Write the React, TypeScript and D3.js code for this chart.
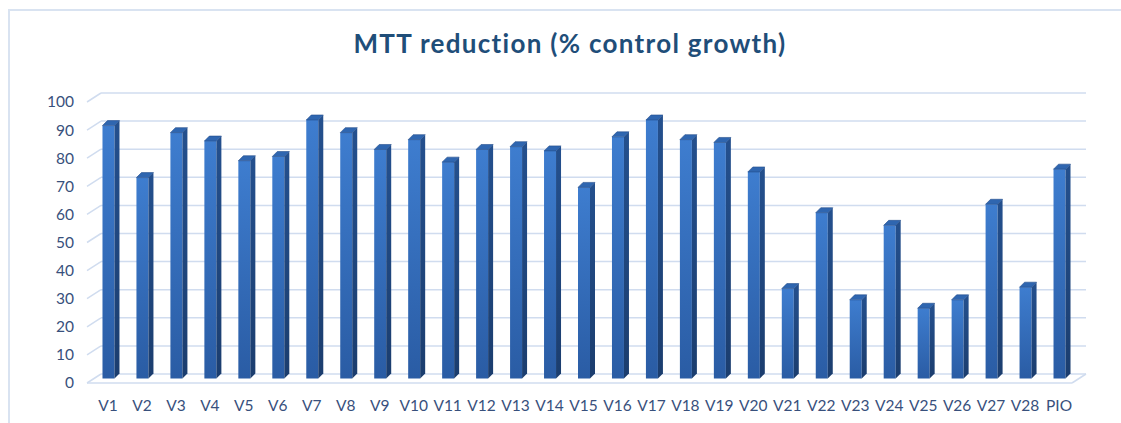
import React from 'react';
import * as d3 from 'd3';

const categories = [
  'V1', 'V2', 'V3', 'V4', 'V5', 'V6', 'V7', 'V8', 'V9', 'V10',
  'V11', 'V12', 'V13', 'V14', 'V15', 'V16', 'V17', 'V18', 'V19', 'V20',
  'V21', 'V22', 'V23', 'V24', 'V25', 'V26', 'V27', 'V28', 'PIO'
];
const mttValues = [
  90, 71.5, 87.5, 84.5, 77.5, 79, 92, 87.5, 81.5, 85,
  77, 81.5, 82.5, 81, 68, 86, 92, 85, 84, 73.5,
  32, 59, 28, 54.5, 25, 28, 62, 32.5, 74.5
];
const yTicks = [0, 10, 20, 30, 40, 50, 60, 70, 80, 90, 100];
const title = 'MTT reduction (% control growth)';

const W = 1121;
const H = 423;

// front edge of the floor, and the offset to the back wall
const floorLeft = 87;
const floorRight = 1072;
const frontZero = 383;
const frontTop = 102;
const wallDx = 14;
const wallDy = -9;
// bars stand halfway into the floor
const barDx = 7;
const barDy = -4.5;
const faceW = 12;
const sideD = 5;

const font = "Lato, 'Open Sans', sans-serif";
const textColor = '#38507c';
const gridColor = '#d0dcef';

const App: React.FC = () => {
  const x = d3.scaleBand<string>()
    .domain(categories)
    .range([floorLeft, floorRight]);

  const yFront = d3.scaleLinear().domain([0, 100]).range([frontZero, frontTop]);
  const yBack = (v: number) => yFront(v) + wallDy;
  const yBar = (v: number) => yFront(v) + barDy;

  return (
    <div style={{ position: 'absolute', left: 0, top: 0 }}>
      <svg width={W} height={H} viewBox={`0 0 ${W} ${H}`} style={{ display: 'block', background: '#fff' }}>
        <defs>
          <linearGradient id="front" x1="0" y1="0" x2="0" y2="1">
            <stop offset="0%" stopColor="#3e7dcf" />
            <stop offset="100%" stopColor="#2a5ca4" />
          </linearGradient>
          <linearGradient id="side" x1="0" y1="0" x2="0" y2="1">
            <stop offset="0%" stopColor="#24508e" />
            <stop offset="100%" stopColor="#1b3d6e" />
          </linearGradient>
        </defs>

        {/* chart frame */}
        <path d={`M 9 ${H + 5} L 9 10 L ${W + 5} 10`} fill="none" stroke="#d9e3f1" strokeWidth={2} />

        <text x={570} y={53} textAnchor="middle" fontFamily={font} letterSpacing={1.3}
          fontWeight={700} fontSize={26} fill="#1f4e79">{title}</text>

        {/* back wall grid + side wall diagonals */}
        {yTicks.map(t => (
          <g key={t}>
            <line x1={floorLeft + wallDx} x2={floorRight + wallDx} y1={yBack(t)} y2={yBack(t)}
              stroke={gridColor} strokeWidth={1.5} />
            <line x1={floorLeft} x2={floorLeft + wallDx} y1={yFront(t)} y2={yBack(t)}
              stroke={gridColor} strokeWidth={1.5} />
          </g>
        ))}
        {/* floor front edge */}
        <line x1={floorLeft} x2={floorRight} y1={frontZero} y2={frontZero} stroke={gridColor} strokeWidth={1.5} />
        <line x1={floorRight} x2={floorRight + wallDx} y1={frontZero} y2={yBack(0)} stroke={gridColor} strokeWidth={1.5} />

        {/* y labels */}
        {yTicks.map(t => (
          <text key={t} x={74} y={yFront(t)} dy="0.35em" textAnchor="end"
            fontFamily={font} fontSize={15.5} fill={textColor}>{t}</text>
        ))}

        {/* bars */}
        {categories.map((c, i) => {
          const cx = (x(c) || 0) + x.bandwidth() / 2 + barDx;
          const left = cx - 8.5;
          const right = left + faceW;
          const top = yBar(mttValues[i]);
          const bottom = yBar(0);
          return (
            <g key={c}>
              <rect x={left} y={top} width={faceW} height={bottom - top} fill="url(#front)" />
              <path d={`M ${right} ${top} L ${right + sideD} ${top - sideD} L ${right + sideD} ${bottom - sideD} L ${right} ${bottom} Z`}
                fill="url(#side)" />
              <path d={`M ${left} ${top} L ${left + sideD} ${top - sideD} L ${right + sideD} ${top - sideD} L ${right} ${top} Z`}
                fill="#2f66b0" stroke="#234e8c" strokeWidth={0.6} />
            </g>
          );
        })}

        {/* category labels */}
        {categories.map(c => (
          <text key={c} x={(x(c) || 0) + x.bandwidth() / 2 + 4} y={406} dy="0.35em" textAnchor="middle"
            fontFamily={font} fontSize={15.5} fill={textColor}>{c}</text>
        ))}
      </svg>
    </div>
  );
};

export default App;
